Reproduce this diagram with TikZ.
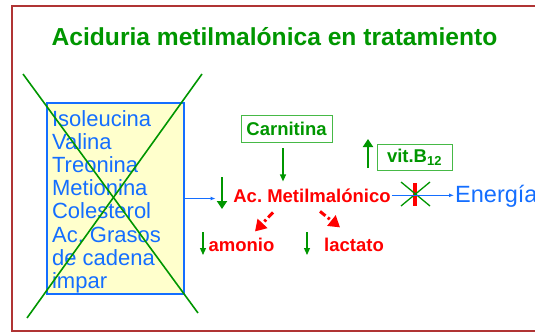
\documentclass[tikz,border=0pt]{standalone}
\usepackage{fontspec}
\setmainfont{Liberation Sans}
\usetikzlibrary{arrows.meta}
\definecolor{marco}{RGB}{176,52,52}
\definecolor{verde}{RGB}{0,150,0}
\definecolor{verdeclaro}{RGB}{70,185,70}
\definecolor{azul}{RGB}{20,110,255}
\definecolor{amarillo}{RGB}{255,255,204}
\definecolor{rojo}{RGB}{255,0,0}
\frenchspacing
\tikzset{
  titulo/.style={text=verde, inner sep=1pt, font=\fontsize{24.6}{26}\selectfont\bfseries},
  caja/.style={draw=azul, line width=1.2pt, fill=amarillo, minimum width=137pt, minimum height=191pt},
  lista/.style={text=azul, align=left, inner sep=0pt, font=\fontsize{22}{23.2}\selectfont},
  recuadro/.style={draw=verdeclaro, line width=0.8pt, text=verde, inner sep=0pt,
    font=\fontsize{18.5}{20}\selectfont\bfseries},
  rojotxt/.style={text=rojo, inner sep=1pt, font=\fontsize{18.5}{20}\selectfont\bfseries},
  tachado/.style={verde, line width=1.6pt},
  gruesa/.style={verde, line width=2.7pt, -{Triangle[length=8pt,width=10pt]}},
  fina/.style={verde, line width=1.2pt, -{Triangle[length=7pt,width=6pt]}},
  flechaazul/.style={azul, line width=1.2pt, -{Latex[length=5pt,width=4pt]}},
  discont/.style={rojo, line width=3pt, dash pattern=on 7pt off 3pt on 2.5pt off 3pt,
    -{Triangle[length=11pt,width=13pt]}}
}
\begin{document}
\begin{tikzpicture}[x=1pt,y=-1pt]
\useasboundingbox (0,0) rectangle (535,332);
\clip (0,0) rectangle (535,332);

% marco
\draw[marco, line width=2pt] (12,6) rectangle (570,331);

% titulo
\node[titulo, anchor=base] (titulo) at (274.5,45) {Aciduria metilmalónica en tratamiento};

% caja tachada
\node[caja] (fuentes) at (115.5,198.5) {};
\node[lista, anchor=north west] (lista) at ([xshift=5.5pt,yshift=-7.5pt]fuentes.north west) {Isoleucina\\Valina\\Treonina\\Metionina\\Colesterol\\Ac. Grasos\\de cadena\\impar};
\draw[tachado] (23,74) -- (198,313);
\draw[tachado] (202,74) -- (27,318);

% ruta central
\node[rojotxt, anchor=base] (acido) at (312,202) {Ac. Metilmalónico};
\draw[flechaazul] (fuentes.east) -- ++(31,0);
\draw[gruesa] (222,177) -- (222,209);

\node[recuadro, minimum width=91pt, minimum height=27pt] (carnitina) at (286.5,128.5) {Carnitina};
\draw[fina] ([xshift=-3.5pt,yshift=-6pt]carnitina.south) -- ++(0,33);

\node[recuadro, minimum width=75pt, minimum height=26pt] (vitamina) at (414.5,157) {vit.B\textsubscript{12}};
\draw[gruesa] (368,168) -- (368,139);

\node[text=azul, inner sep=1pt, anchor=base west, font=\fontsize{23.5}{25}\selectfont] (energia) at (454,202.5) {Energía};

% bloqueo
\draw[rojo, line width=4.5pt] (415,183) -- (415,206);
\draw[verde, line width=1.3pt] (401,182) -- (430,206);
\draw[verde, line width=1.3pt] (401,206) -- (430,182);
\draw[flechaazul] (acido.east) -- (acido.east -| energia.west);

% productos
\node[rojotxt, anchor=base] (amonio) at (241.5,251) {amonio};
\node[rojotxt, anchor=base] (lactato) at (354,251) {lactato};
\draw[discont] ([xshift=-39pt,yshift=-9pt]acido.south) -- ([xshift=13.5pt,yshift=5pt]amonio.north);
\draw[discont] ([xshift=8pt,yshift=-8pt]acido.south) -- ([xshift=-14pt,yshift=9pt]lactato.north);
\draw[fina] (203,232) -- (203,255);
\draw[fina] (307,232) -- (307,255);
\end{tikzpicture}
\end{document}
